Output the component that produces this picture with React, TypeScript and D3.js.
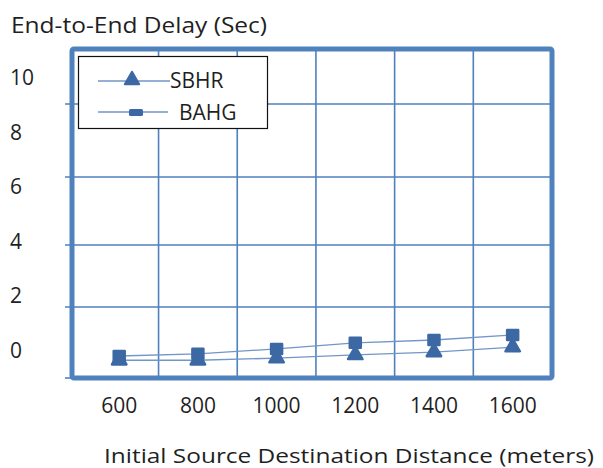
import React from "react";
import * as d3 from "d3";

const distances = [600, 800, 1000, 1200, 1400, 1600];
const sbhr = [0.5, 0.5, 0.56, 0.65, 0.73, 0.87];
const bahg = [0.62, 0.68, 0.82, 0.99, 1.07, 1.21];
const yTickLabels = [0, 2, 4, 6, 8, 10];
const gridY = [2, 4, 6, 8];
const gridX = [700, 900, 1100, 1300, 1500];
const seriesNames = ["SBHR", "BAHG"];

const W = 603;
const H = 468;
const frame = { left: 72, right: 552, top: 49, bottom: 378 };
const FONT = "'Open Sans', sans-serif";
const BLUE = "#4F81BD";
const LINE = "#7196C8";
const MARK = "#3C68A4";
const TXT = "#1f1f1f";

export default function App() {
  const x = d3.scaleLinear().domain([480, 1700]).range([frame.left, frame.right]);
  // piecewise scale as the plot grid in the reference is uneven
  const y = d3.scaleLinear().domain([0, 2, 4, 6, 8]).range([378, 307, 245, 177, 104]);
  const yLab = d3.scaleLinear().domain([0, 10]).range([350, 77]);

  const line = d3
    .line<number>()
    .x((_, i) => x(distances[i]))
    .y((d) => y(d));

  const tri = d3.symbol().type(d3.symbolTriangle).size(90)();
  const sq = (w: number, h: number) => `M${-w},${-h}h${2 * w}v${2 * h}h${-2 * w}Z`;

  return (
    <svg width={W} height={H} style={{ display: "block", position: "absolute", left: 0, top: 0 }}>
      <rect x={0} y={0} width={W} height={H} fill="#fff" />
      <text x={11} y={33} fontFamily={FONT} fontSize={21} fill={TXT} textLength={256} lengthAdjust="spacingAndGlyphs">
        End-to-End Delay (Sec)
      </text>

      {/* grid */}
      {gridY.map((v) => (
        <line key={"gy" + v} x1={frame.left - 7} x2={frame.right} y1={y(v)} y2={y(v)} stroke={BLUE} strokeWidth={1.6} />
      ))}
      <line x1={frame.left - 7} x2={frame.left} y1={y(0)} y2={y(0)} stroke={BLUE} strokeWidth={1.6} />
      {gridX.map((v) => (
        <line key={"gx" + v} x1={x(v)} x2={x(v)} y1={frame.top} y2={frame.bottom} stroke={BLUE} strokeWidth={1.6} />
      ))}

      {/* frame */}
      <rect
        x={frame.left}
        y={frame.top}
        width={frame.right - frame.left}
        height={frame.bottom - frame.top}
        fill="none"
        stroke={BLUE}
        strokeWidth={5}
        rx={2}
      />

      {/* y labels */}
      {yTickLabels.map((v) => (
        <text key={"yl" + v} x={10} y={yLab(v)} dominantBaseline="central" fontFamily={FONT} fontSize={21} fill={TXT}>
          {v}
        </text>
      ))}

      {/* x labels */}
      {distances.map((d) => (
        <text key={"xl" + d} x={x(d)} y={405} textAnchor="middle" dominantBaseline="central" fontFamily={FONT} fontSize={21} fill={TXT}>
          {d}
        </text>
      ))}

      <text x={104} y={455} dominantBaseline="central" fontFamily={FONT} fontSize={20.5} fill={TXT} textLength={490} lengthAdjust="spacingAndGlyphs">
        Initial Source Destination Distance (meters)
      </text>

      {/* series */}
      <path d={line(bahg) || ""} fill="none" stroke={LINE} strokeWidth={1.3} />
      <path d={line(sbhr) || ""} fill="none" stroke={LINE} strokeWidth={1.3} />
      {sbhr.map((v, i) => (
        <path key={"t" + i} d={tri || ""} transform={`translate(${x(distances[i])},${y(v)})`} fill={MARK} stroke={MARK} strokeWidth={2.5} strokeLinejoin="round" />
      ))}
      {bahg.map((v, i) => (
        <path key={"s" + i} d={sq(5.5, 5)} transform={`translate(${x(distances[i])},${y(v)})`} fill={MARK} stroke={MARK} strokeWidth={2.5} strokeLinejoin="round" />
      ))}

      {/* legend */}
      <rect x={78.5} y={56.5} width={189} height={72} fill="#fff" stroke="#111" strokeWidth={1.2} />
      <line x1={98} x2={170} y1={81} y2={81} stroke={LINE} strokeWidth={1.3} />
      <path d={tri || ""} transform="translate(132,80)" fill={MARK} stroke={MARK} strokeWidth={2} strokeLinejoin="round" />
      <text x={170} y={80} dominantBaseline="central" fontFamily={FONT} fontSize={21} fill={TXT}>
        {seriesNames[0]}
      </text>
      <line x1={98} x2={168} y1={112} y2={112} stroke={LINE} strokeWidth={1.3} />
      <rect x={129} y={109} width={14} height={7} rx={1.5} fill={MARK} />
      <text x={179} y={112} dominantBaseline="central" fontFamily={FONT} fontSize={21} fill={TXT}>
        {seriesNames[1]}
      </text>
    </svg>
  );
}
